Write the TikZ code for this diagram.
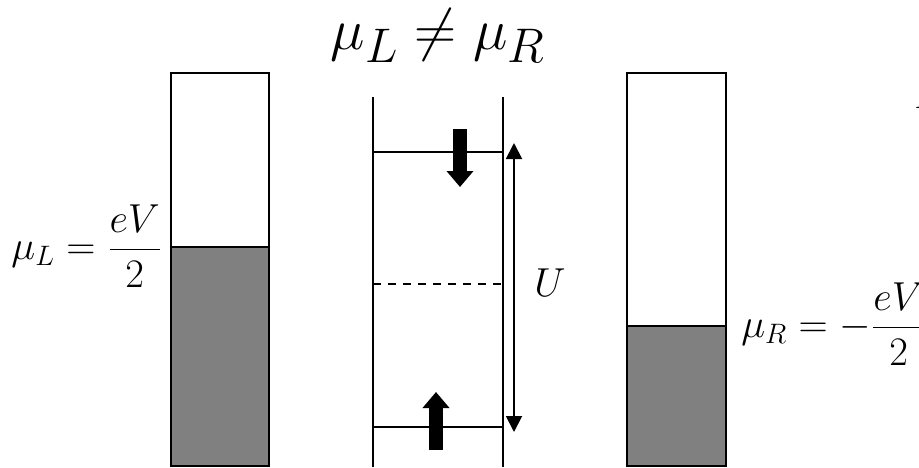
\documentclass[tikz,border=0pt]{standalone}
\usepackage{amsmath,amssymb}
\usepackage{tikz}
\usetikzlibrary{arrows.meta}

\begin{document}
\begin{tikzpicture}[
    x=0.015cm, y=-0.015cm,
    lead/.style={draw, line width=0.8pt},
    level/.style={line width=0.8pt},
    spin/.style={line width=0.2cm, -{Triangle[width=0.39cm, length=0.24cm]}},
    gap/.style={line width=0.8pt, {Triangle[width=0.24cm, length=0.24cm]}-{Triangle[width=0.24cm, length=0.24cm]}},
    fermi/.style={fill=black!50}
  ]
    \useasboundingbox (0,0) rectangle (919,467);

    % left lead
    \fill[fermi] (171,247) rectangle (269,466);
    \draw[lead] (171,73) rectangle (269,466);
    \draw[level] (171,247) -- (269,247);
    \node[anchor=east, font=\LARGE] (muL) at (171,246) {$\mu_L = \dfrac{eV}{2}$};

    % right lead
    \fill[fermi] (627,326) rectangle (726,466);
    \draw[lead] (627,73) rectangle (726,466);
    \draw[level] (627,326) -- (726,326);
    \node[anchor=west, font=\LARGE] (muR) at (733,324) {$\mu_R = -\dfrac{eV}{2}$};

    % dot
    \draw[level] (373,97) -- (373,467);
    \draw[level] (503,97) -- (503,467);
    \coordinate (upL) at (373,152);
    \coordinate (upR) at (503,152);
    \coordinate (dnL) at (373,427);
    \coordinate (dnR) at (503,427);
    \draw[level] (upL) -- (upR);
    \draw[level] (dnL) -- (dnR);
    \draw[level, dash pattern=on 0.12cm off 0.105cm] (373,284) -- (503,284);

    \draw[spin] (460,129) -- (460,187);
    \draw[spin] (436,450) -- (436,392);

    \coordinate (gtop) at (514,143);
    \coordinate (gbot) at (514,432);
    \draw[gap] (gtop) -- (gbot);
    \node[font=\fontsize{19}{23}\selectfont] (U) at (550,283) {$U$};

    \node[font=\Huge] (title) at (438,36) {$\mu_L \neq \mu_R$};
    \node[anchor=base west, inner sep=0pt, font=\LARGE] (E) at (914,108) {$E$};
\end{tikzpicture}
\end{document}
